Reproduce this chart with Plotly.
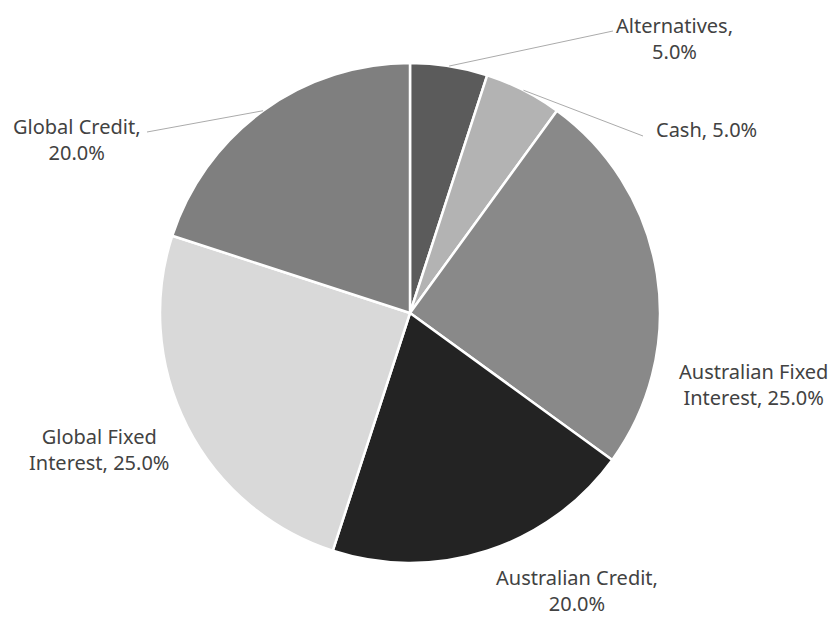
import math
import plotly.graph_objects as go

labels = ["Alternatives", "Cash", "Australian Fixed Interest", "Australian Credit",
          "Global Fixed Interest", "Global Credit"]
values = [5.0, 5.0, 25.0, 20.0, 25.0, 20.0]
colors = ["#5b5b5b", "#b3b3b3", "#898989", "#232323", "#d9d9d9", "#7f7f7f"]
label_texts = ["Alternatives,<br>5.0%", "Cash, 5.0%", "Australian Fixed<br>Interest, 25.0%",
               "Australian Credit,<br>20.0%", "Global Fixed<br>Interest, 25.0%",
               "Global Credit,<br>20.0%"]

W, H = 828, 617
CX, CY, R = 410, 313, 250

# label anchor positions (pixels) and whether a leader line is drawn
label_pos = [(674, 38), (655, 130), (753, 384), (577, 590), (99, 449), (77, 139)]
leader_end = [(613, 31), (643, 136), None, None, None, (147, 132)]
label_align = ["center", "left", "center", "center", "center", "center"]

def px(x):
    return x / W

def py(y):
    return 1 - y / H

fig = go.Figure(go.Pie(
    labels=labels, values=values, sort=False, direction="clockwise", rotation=0,
    marker=dict(colors=colors, line=dict(color="white", width=2.5)),
    textinfo="none", hoverinfo="label+percent",
    domain=dict(x=[px(CX - R), px(CX + R)], y=[py(CY + R), py(CY - R)]),
    showlegend=False,
))

total = sum(values)
cum = 0
shapes = []
annotations = []
for i, v in enumerate(values):
    mid = (cum + v / 2) / total * 2 * math.pi
    cum += v
    sx = CX + R * math.sin(mid)
    sy = CY - R * math.cos(mid)
    if leader_end[i] is not None:
        ex, ey = leader_end[i]
        shapes.append(dict(type="line", xref="paper", yref="paper",
                           x0=px(sx), y0=py(sy), x1=px(ex), y1=py(ey),
                           line=dict(color="#ababab", width=1)))
    lx, ly = label_pos[i]
    annotations.append(dict(
        x=px(lx), y=py(ly), xref="paper", yref="paper", text=label_texts[i],
        showarrow=False, align="center", borderpad=0,
        xanchor="left" if label_align[i] == "left" else "center", yanchor="middle",
        font=dict(family="Noto Sans", size=20, color="#424242")))

fig.update_layout(
    width=W, height=H, margin=dict(l=0, r=0, t=0, b=0),
    paper_bgcolor="white", plot_bgcolor="white",
    shapes=shapes, annotations=annotations,
)

fig.write_html("out.html", config={"displayModeBar": False},
               post_script="document.body.style.margin='0px';")
